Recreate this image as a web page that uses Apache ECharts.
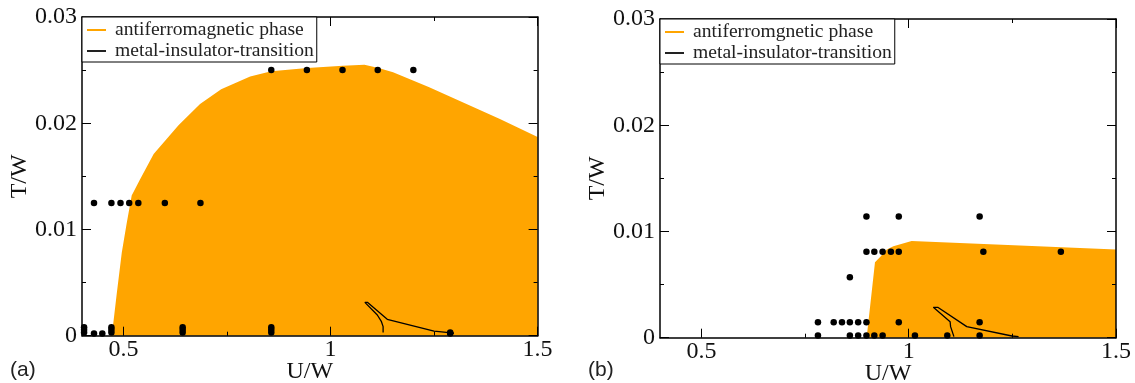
<!DOCTYPE html>
<html>
<head>
<meta charset="utf-8">
<script src="https://cdn.jsdelivr.net/npm/echarts@6/dist/echarts.min.js"></script>
<style>
html,body{margin:0;padding:0;background:#fff;}
#c{width:1135px;height:383px;}
</style>
</head>
<body>
<div id="c"></div>
<script>
// ---------- data ----------
const xMajorTicks = [0.5, 1, 1.5];
const xMinorTicks = [0.75, 1.25];
const panelLabels = ['(a)', '(b)'];
const legendNamesA = ['antiferromagnetic phase', 'metal-insulator-transition'];
const legendNamesB = ['antiferromgnetic phase', 'metal-insulator-transition'];

// panel (a): antiferromagnetic phase boundary [U/W, T/W]
const afmBoundaryA = [[0.472,0],[0.484,0.0040],[0.496,0.0078],[0.508,0.0106],[0.520,0.0132],[0.540,0.0147],[0.573,0.0171],[0.633,0.0198],[0.685,0.0218],[0.736,0.0232],[0.806,0.0244],[0.857,0.0249],[0.944,0.0252],[1.030,0.0254],[1.082,0.0255],[1.116,0.0252],[1.151,0.0248],[1.237,0.0234],[1.323,0.0219],[1.409,0.0204],[1.5,0.0187]];
// panel (a): metal-insulator transition
const mitA = [[1.127,0.0003],[1.127,0.00085],[1.123,0.00132],[1.113,0.00195],[1.083,0.00314],[1.089,0.00314],[1.137,0.00154],[1.25,0.00044],[1.286,0.00028],[1.298,0.00023]];
// panel (a): simulation points
const pointsA = [
  [0.857,0.025],[0.943,0.025],[1.029,0.025],[1.114,0.025],[1.2,0.025],
  [0.429,0.0125],[0.471,0.0125],[0.493,0.0125],[0.514,0.0125],[0.536,0.0125],[0.6,0.0125],[0.686,0.0125],
  [0.405,0.0008],[0.405,0.00055],[0.405,0.0003],
  [0.429,0.0002],[0.449,0.0002],
  [0.471,0.0008],[0.471,0.00055],[0.471,0.0003],
  [0.643,0.0008],[0.643,0.00055],[0.643,0.0003],
  [0.857,0.0008],[0.857,0.00055],[0.857,0.0003],
  [1.289,0.0003],[1.289,0.0002]
];

// panel (b)
const afmBoundaryB = [[0.8985,0],[0.9186,0.0071],[0.931,0.0076],[0.947,0.0083],[0.963,0.0086],[1.007,0.0091],[1.5,0.0083]];
const mitB = [[1.109,0.0001],[1.101,0.00104],[1.0998,0.00151],[1.0594,0.00286],[1.070,0.00286],[1.140,0.00104],[1.249,0.00016],[1.265,0.0001]];
const pointsB = [
  [0.898,0.0114],[0.976,0.0114],[1.171,0.0114],
  [0.898,0.0081],[0.917,0.0081],[0.937,0.0081],[0.957,0.0081],[0.976,0.0081],[1.18,0.0081],[1.367,0.0081],
  [0.858,0.0057],
  [0.781,0.00145],[0.819,0.00145],[0.839,0.00145],[0.858,0.00145],[0.878,0.00145],[0.898,0.00145],[0.976,0.00145],[1.171,0.00145],
  [0.781,0.0002],[0.858,0.0002],[0.878,0.0002],[0.898,0.0002],[0.917,0.0002],[0.937,0.0002],[1.015,0.0002],[1.093,0.0002],[1.171,0.0002]
];

// ---------- styling ----------
const SERIF = 'Liberation Serif';
const ORANGE = '#FFA500';
const BLACK = '#000';
const grids = [
  {left: 82, top: 17, width: 455.6, height: 318.7},
  {left: 660, top: 19, width: 456, height: 318.7}
];

function xAxes(gi) {
  const base = {gridIndex: gi, type: 'value', min: 0.4, max: 1.5, z: 10, splitLine: {show: false}};
  return [
    Object.assign({}, base, {
      position: 'bottom',
      name: 'U/W', nameLocation: 'middle', nameGap: 24, nameMoveOverlap: false,
      nameTextStyle: {fontFamily: SERIF, fontSize: 24, color: '#111'},
      axisLine: {onZero: false, lineStyle: {color: BLACK, width: 1.5}},
      axisTick: {inside: true, length: 9, customValues: xMajorTicks, lineStyle: {color: BLACK, width: 1}},
      axisLabel: {customValues: xMajorTicks, margin: 2, fontFamily: SERIF, fontSize: 24, color: '#111'}
    }),
    Object.assign({}, base, {
      position: 'top',
      axisLine: {onZero: false, lineStyle: {color: BLACK, width: 1.5}},
      axisTick: {inside: true, length: 9, customValues: xMajorTicks, lineStyle: {color: BLACK, width: 1}},
      axisLabel: {show: false}
    }),
    Object.assign({}, base, {
      position: 'bottom',
      axisLine: {show: false, onZero: false},
      axisTick: {inside: true, length: 4, customValues: xMinorTicks, lineStyle: {color: BLACK, width: 1}},
      axisLabel: {show: false}
    }),
    Object.assign({}, base, {
      position: 'top',
      axisLine: {show: false, onZero: false},
      axisTick: {inside: true, length: 4, customValues: xMinorTicks, lineStyle: {color: BLACK, width: 1}},
      axisLabel: {show: false}
    })
  ];
}
function yAxes(gi) {
  const base = {gridIndex: gi, type: 'value', min: 0, max: 0.03, interval: 0.01, z: 10,
    splitLine: {show: false}, minorSplitLine: {show: false},
    axisLine: {onZero: false, lineStyle: {color: BLACK, width: 1.5}},
    axisTick: {inside: true, length: 9, lineStyle: {color: BLACK, width: 1}},
    minorTick: {show: true, splitNumber: 2, length: 4, lineStyle: {color: BLACK, width: 1}}};
  return [
    Object.assign({}, base, {
      position: 'left',
      name: 'T/W', nameLocation: 'middle', nameGap: 50, nameMoveOverlap: false,
      nameTextStyle: {fontFamily: SERIF, fontSize: 24, color: '#111'},
      axisLabel: {margin: 5, fontFamily: SERIF, fontSize: 24, color: '#111'}
    }),
    Object.assign({}, base, {position: 'right', axisLabel: {show: false}})
  ];
}
function legend(gi, names) {
  return {
    left: grids[gi].left, top: grids[gi].top, orient: 'vertical', z: 20,
    backgroundColor: '#fff', borderColor: '#000', borderWidth: 1,
    padding: [3, 3, 1, 5], itemGap: 1, itemWidth: 19, itemHeight: 2,
    icon: 'rect', selectedMode: false,
    textStyle: {fontFamily: SERIF, fontSize: 19.6, lineHeight: 20, color: '#222', padding: [0, 0, 0, 4]},
    data: names
  };
}
function panelSeries(xi, yi, afmName, boundary, mit, pts) {
  return [
    {name: afmName, type: 'line', xAxisIndex: xi, yAxisIndex: yi, data: boundary,
      showSymbol: false, symbol: 'none', color: ORANGE,
      lineStyle: {width: 0, color: ORANGE}, areaStyle: {color: ORANGE, opacity: 1, origin: 'start'},
      silent: true, z: 2},
    {name: 'metal-insulator-transition', type: 'line', xAxisIndex: xi, yAxisIndex: yi, data: mit,
      showSymbol: false, symbol: 'none', color: '#222',
      lineStyle: {width: 1.3, color: BLACK}, silent: true, z: 3},
    {name: 'points' + xi, type: 'scatter', xAxisIndex: xi, yAxisIndex: yi, data: pts,
      symbol: 'circle', symbolSize: 6.5, itemStyle: {color: BLACK, opacity: 1}, silent: true, z: 4}
  ];
}

const chart = echarts.init(document.getElementById('c'), null, {renderer: 'canvas'});
chart.setOption({
  animation: false,
  backgroundColor: '#fff',
  grid: grids.map(g => Object.assign({containLabel: false, outerBoundsMode: 'none'}, g)),
  xAxis: xAxes(0).concat(xAxes(1)),
  yAxis: yAxes(0).concat(yAxes(1)),
  legend: [legend(0, legendNamesA), legend(1, legendNamesB)],
  series: panelSeries(0, 0, legendNamesA[0], afmBoundaryA, mitA, pointsA)
    .concat(panelSeries(4, 2, legendNamesB[0], afmBoundaryB, mitB, pointsB)),
  graphic: [
    {type: 'text', left: 10, top: 360, style: {text: panelLabels[0], font: '21px "Liberation Sans"', fill: '#222'}},
    {type: 'text', left: 588, top: 360, style: {text: panelLabels[1], font: '21px "Liberation Sans"', fill: '#222'}}
  ]
});
</script>
</body>
</html>
